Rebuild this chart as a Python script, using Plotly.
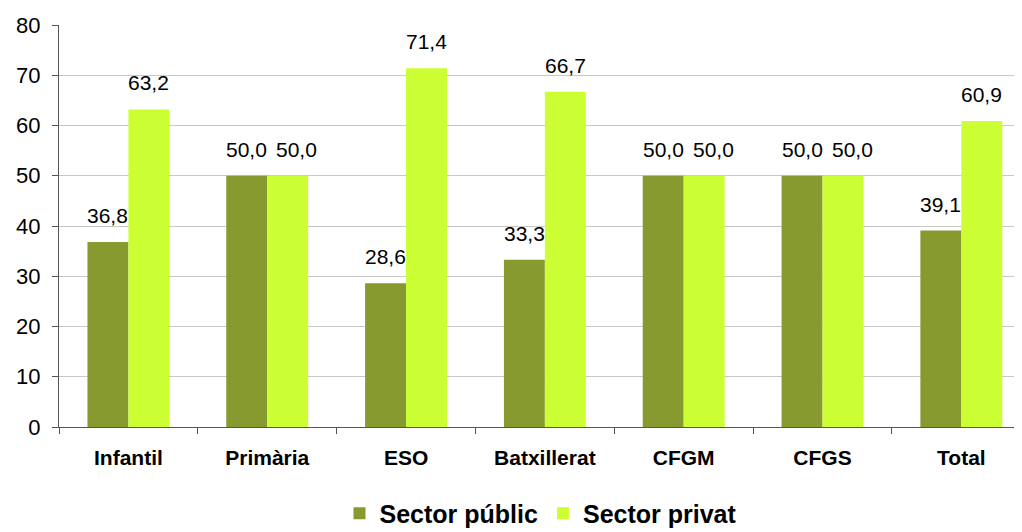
import plotly.graph_objects as go

categories = ["Infantil", "Primària", "ESO", "Batxillerat", "CFGM", "CFGS", "Total"]
sector_public = [36.8, 50.0, 28.6, 33.3, 50.0, 50.0, 39.1]
sector_privat = [63.2, 50.0, 71.4, 66.7, 50.0, 50.0, 60.9]

dark_green = "#879A2F"
lime = "#CCFF33"


def fmt(v):
    return f"{v:.1f}".replace(".", ",")


fig = go.Figure()
fig.add_trace(go.Bar(x=categories, y=sector_public, name="<b>Sector públic</b>",
                     marker_color=dark_green, marker_line_width=0))
fig.add_trace(go.Bar(x=categories, y=sector_privat, name="<b>Sector privat</b>",
                     marker_color=lime, marker_line_width=0))

annotations = []
for cat, pub, priv in zip(categories, sector_public, sector_privat):
    # when both labels sit at the same height, nudge the right one so they don't touch
    nudge = 9 if abs(pub - priv) < 5 else 0
    for val, shift in ((pub, -20.5), (priv, 20.5 + nudge)):
        annotations.append(dict(
            x=cat, y=val, text=fmt(val), showarrow=False,
            xshift=shift, yshift=13, yanchor="bottom",
            font=dict(family="Liberation Sans, Arial", size=21, color="black"),
        ))

# page body adds an 8px offset, so the figure is sized to fit the window
fig.update_layout(
    width=1014, height=524,
    margin=dict(l=51, r=0, t=17, b=105, autoexpand=False),
    plot_bgcolor="white", paper_bgcolor="white",
    barmode="group", bargap=0.41, bargroupgap=0,
    annotations=annotations,
    showlegend=True,
    legend=dict(orientation="h", x=0.5, xanchor="center", y=-0.215, yanchor="middle",
                font=dict(family="Liberation Sans, Arial", size=25, color="black"),
                itemwidth=30, traceorder="normal", tracegroupgap=0),
    font=dict(family="Liberation Sans, Arial", color="black"),
)
fig.update_yaxes(range=[0, 80], dtick=10, showgrid=True, gridcolor="#C8C8C8",
                 showline=True, linecolor="#555555", linewidth=1,
                 ticks="outside", ticklen=6, tickcolor="#555555", ticklabelstandoff=7,
                 tickfont=dict(size=22, color="black"), zeroline=False,
                 automargin=False)
# the last category runs slightly past the right edge, as in the original
fig.update_xaxes(range=[-0.5, 6.437],
                 showline=True, linecolor="#555555", linewidth=1,
                 ticks="outside", ticklen=6, tickcolor="#555555", tickson="boundaries",
                 ticklabelstandoff=12,
                 tickfont=dict(size=21, color="black", weight="bold"),
                 automargin=False)

fig.write_html("out.html")
